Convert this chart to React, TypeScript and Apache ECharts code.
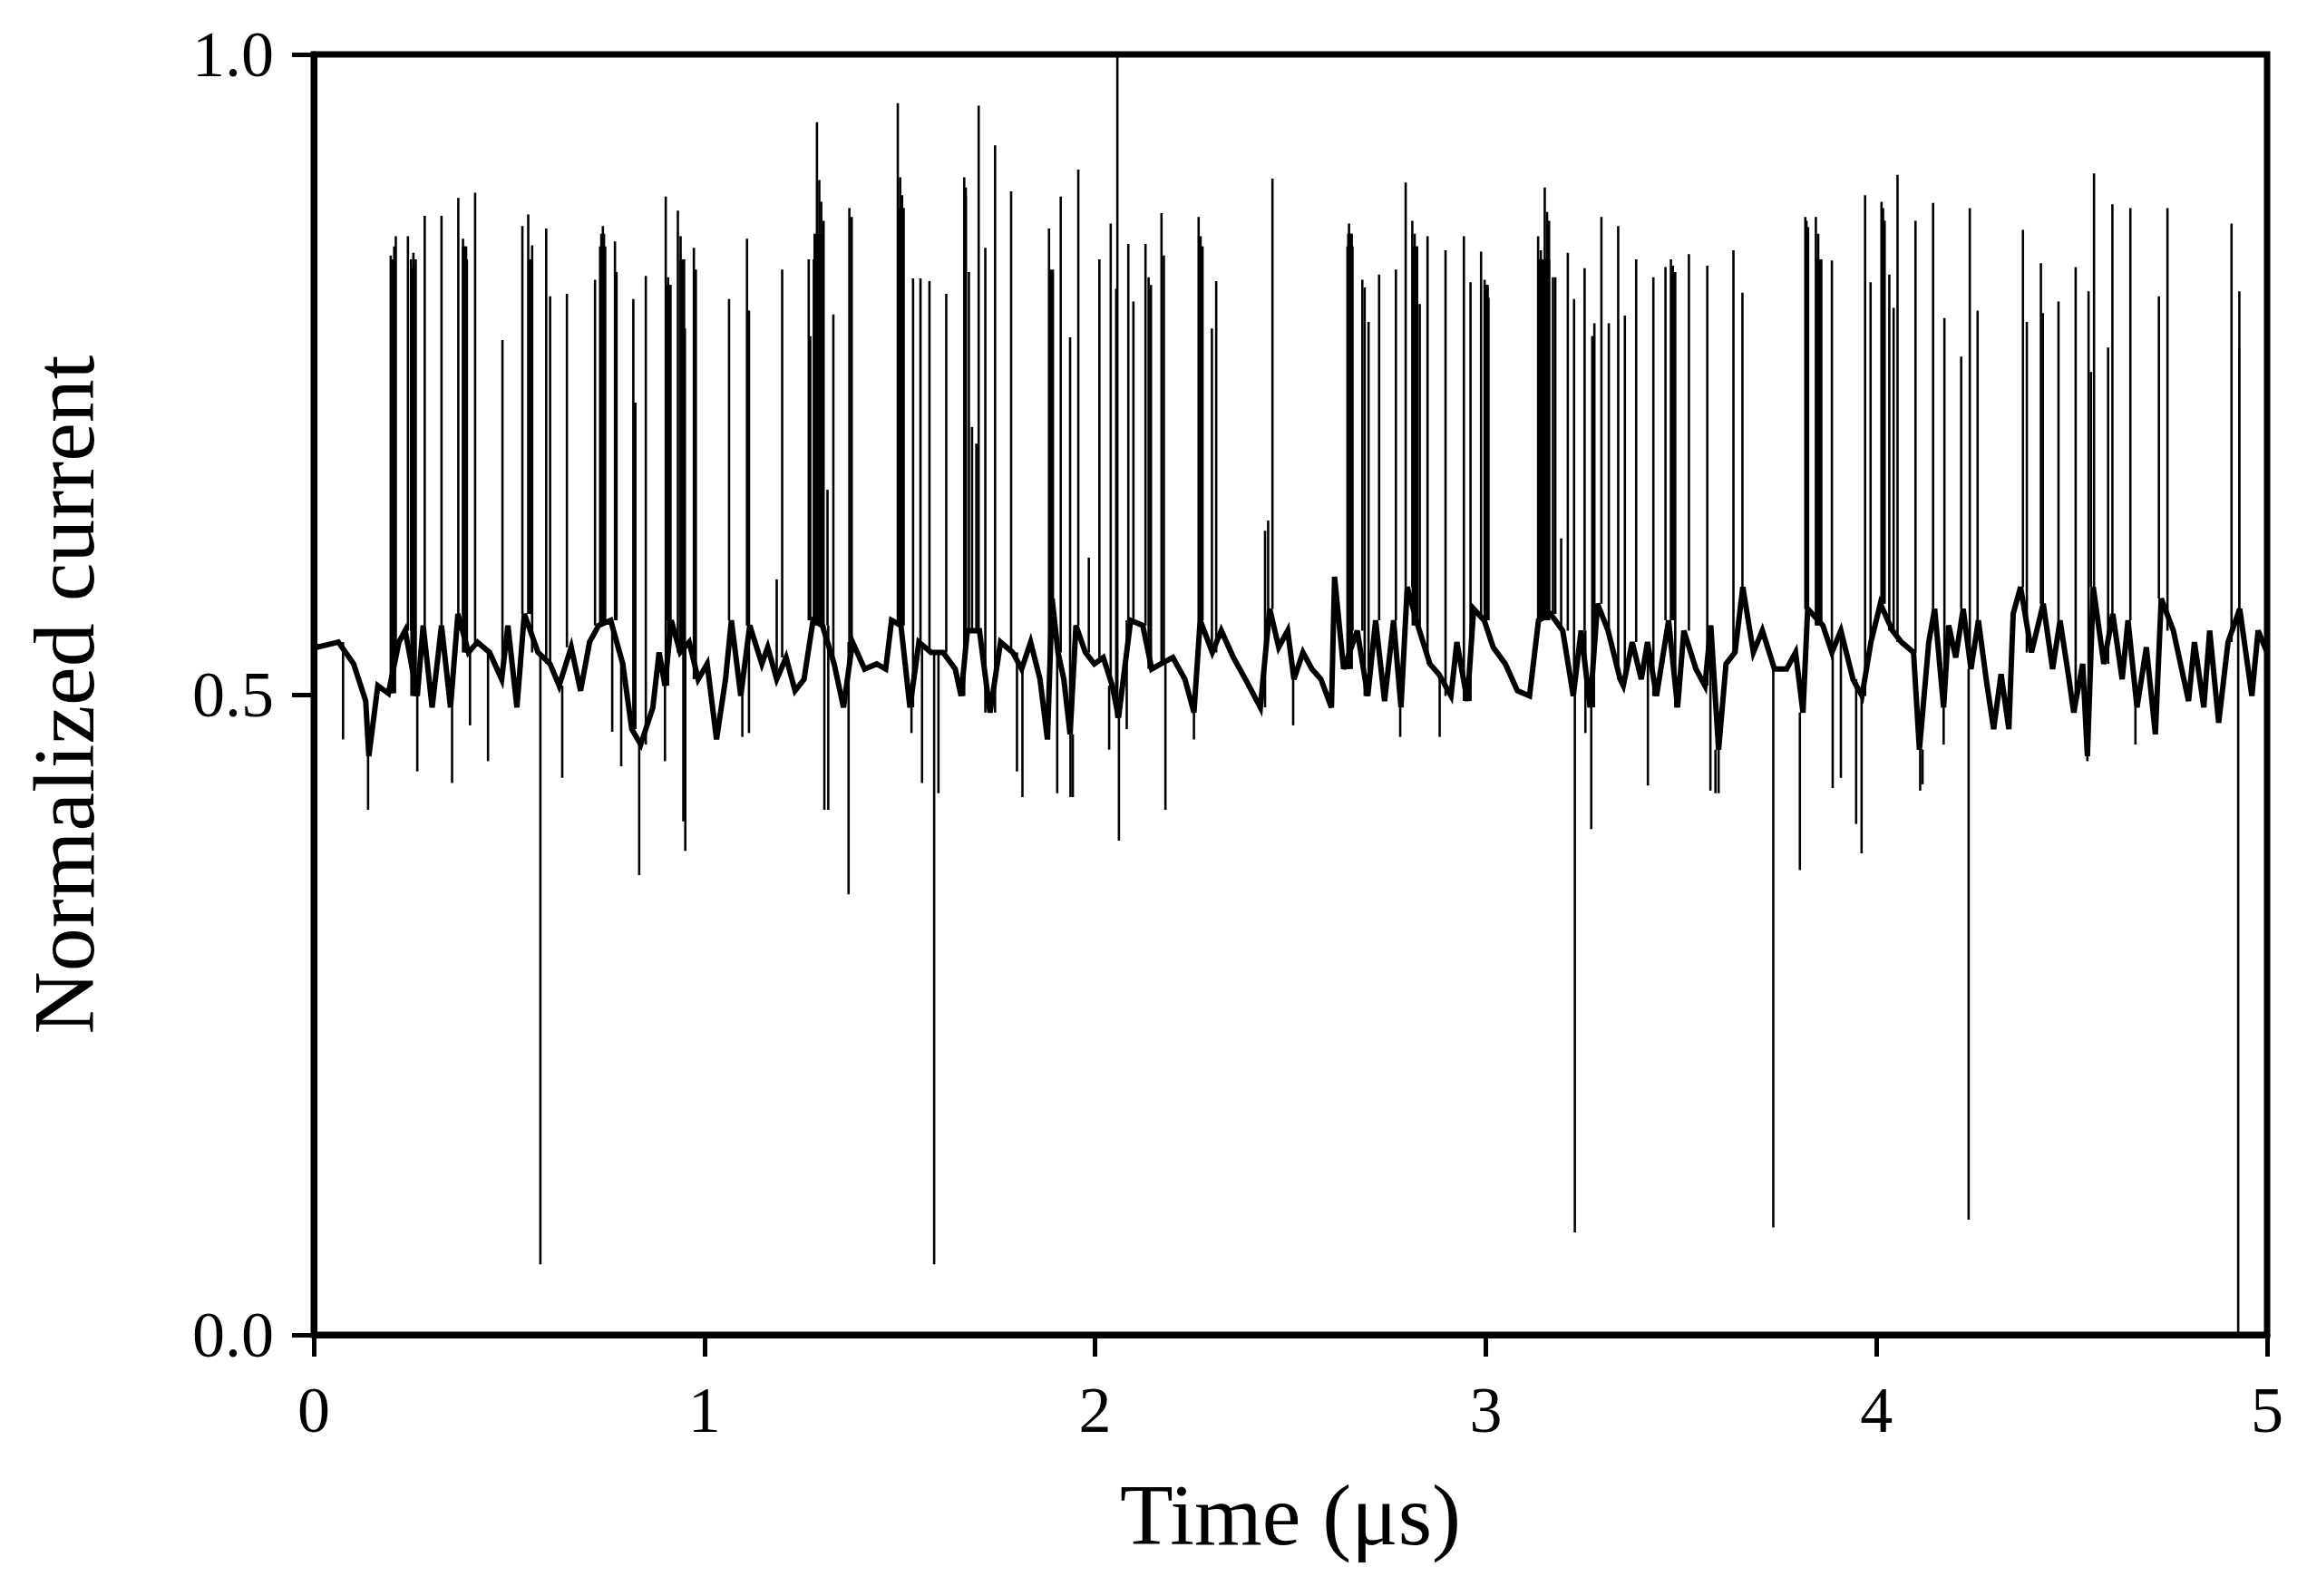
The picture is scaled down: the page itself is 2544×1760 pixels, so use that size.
import React, { useEffect, useRef } from "react";
import * as echarts from "echarts";

// Baseline trace readings [time (µs), normalized current]
const baseline: [number, number][] = [
  [0.0, 0.54], [0.009, 0.537], [0.063, 0.541], [0.102, 0.524], [0.133, 0.495], [0.141, 0.452],
  [0.164, 0.507], [0.191, 0.501], [0.218, 0.541], [0.234, 0.55], [0.265, 0.499], [0.28, 0.554],
  [0.303, 0.49], [0.327, 0.554], [0.35, 0.49], [0.369, 0.563], [0.396, 0.533], [0.419, 0.541],
  [0.45, 0.533], [0.481, 0.512], [0.497, 0.554], [0.52, 0.49], [0.539, 0.563], [0.574, 0.533],
  [0.605, 0.524], [0.628, 0.507], [0.659, 0.537], [0.683, 0.503], [0.706, 0.541], [0.729, 0.554],
  [0.76, 0.558], [0.791, 0.524], [0.814, 0.473], [0.837, 0.461], [0.868, 0.49], [0.884, 0.533],
  [0.899, 0.507], [0.915, 0.558], [0.938, 0.533], [0.961, 0.541], [0.984, 0.512], [1.007, 0.524],
  [1.031, 0.465], [1.054, 0.512], [1.069, 0.558], [1.093, 0.499], [1.116, 0.554], [1.147, 0.524],
  [1.162, 0.537], [1.185, 0.512], [1.209, 0.529], [1.232, 0.503], [1.255, 0.512], [1.278, 0.558],
  [1.302, 0.554], [1.332, 0.524], [1.356, 0.49], [1.379, 0.541], [1.41, 0.52], [1.441, 0.524],
  [1.464, 0.52], [1.479, 0.558], [1.503, 0.554], [1.526, 0.49], [1.549, 0.541], [1.58, 0.533],
  [1.611, 0.533], [1.642, 0.52], [1.657, 0.499], [1.673, 0.55], [1.704, 0.55], [1.731, 0.486],
  [1.758, 0.541], [1.789, 0.533], [1.812, 0.52], [1.835, 0.541], [1.859, 0.512], [1.878, 0.465],
  [1.89, 0.575], [1.905, 0.533], [1.92, 0.512], [1.936, 0.469], [1.951, 0.554], [1.975, 0.533],
  [1.998, 0.524], [2.021, 0.529], [2.044, 0.507], [2.06, 0.482], [2.091, 0.558], [2.122, 0.554],
  [2.145, 0.52], [2.168, 0.524], [2.199, 0.529], [2.23, 0.512], [2.253, 0.486], [2.269, 0.558],
  [2.3, 0.533], [2.323, 0.55], [2.354, 0.529], [2.385, 0.512], [2.423, 0.49], [2.447, 0.567],
  [2.47, 0.537], [2.493, 0.55], [2.509, 0.512], [2.532, 0.533], [2.555, 0.52], [2.578, 0.512],
  [2.605, 0.49], [2.613, 0.592], [2.636, 0.52], [2.671, 0.55], [2.698, 0.499], [2.718, 0.558],
  [2.741, 0.495], [2.764, 0.558], [2.783, 0.49], [2.799, 0.584], [2.826, 0.554], [2.857, 0.524],
  [2.88, 0.516], [2.911, 0.499], [2.926, 0.541], [2.953, 0.495], [2.969, 0.567], [2.996, 0.558],
  [3.019, 0.537], [3.05, 0.524], [3.081, 0.503], [3.112, 0.499], [3.135, 0.558], [3.166, 0.563],
  [3.197, 0.55], [3.224, 0.499], [3.244, 0.55], [3.267, 0.49], [3.286, 0.571], [3.313, 0.55],
  [3.344, 0.512], [3.352, 0.507], [3.375, 0.541], [3.398, 0.512], [3.414, 0.541], [3.437, 0.499],
  [3.468, 0.558], [3.491, 0.49], [3.507, 0.55], [3.538, 0.52], [3.561, 0.507], [3.576, 0.554],
  [3.596, 0.457], [3.615, 0.524], [3.638, 0.533], [3.658, 0.584], [3.685, 0.533], [3.708, 0.55],
  [3.739, 0.52], [3.77, 0.52], [3.793, 0.533], [3.812, 0.486], [3.824, 0.567], [3.863, 0.554],
  [3.886, 0.533], [3.909, 0.55], [3.94, 0.512], [3.963, 0.499], [3.986, 0.541], [4.01, 0.571],
  [4.041, 0.55], [4.064, 0.541], [4.095, 0.533], [4.11, 0.457], [4.134, 0.541], [4.149, 0.567],
  [4.172, 0.49], [4.185, 0.554], [4.203, 0.529], [4.222, 0.567], [4.242, 0.52], [4.261, 0.558],
  [4.281, 0.512], [4.3, 0.473], [4.319, 0.516], [4.339, 0.473], [4.35, 0.563], [4.369, 0.584],
  [4.397, 0.533], [4.427, 0.571], [4.451, 0.52], [4.47, 0.558], [4.493, 0.512], [4.505, 0.486],
  [4.528, 0.524], [4.54, 0.452], [4.555, 0.584], [4.582, 0.524], [4.605, 0.563], [4.629, 0.512],
  [4.644, 0.558], [4.667, 0.49], [4.691, 0.537], [4.714, 0.469], [4.729, 0.575], [4.76, 0.55],
  [4.799, 0.495], [4.814, 0.541], [4.838, 0.49], [4.853, 0.55], [4.876, 0.478], [4.9, 0.541],
  [4.93, 0.567], [4.961, 0.499], [4.977, 0.55], [5.0, 0.533],
];

// Upward spikes [time (µs), peak]
const upSpikes: [number, number][] = [
  [0.197, 0.843], [0.201, 0.84], [0.206, 0.85], [0.21, 0.858], [0.241, 0.858], [0.249, 0.84],
  [0.255, 0.845], [0.261, 0.84], [0.284, 0.874], [0.327, 0.874], [0.37, 0.888], [0.382, 0.856],
  [0.387, 0.85], [0.392, 0.84], [0.413, 0.892], [0.483, 0.777], [0.534, 0.866], [0.549, 0.875],
  [0.559, 0.851], [0.595, 0.864], [0.605, 0.811], [0.648, 0.813], [0.72, 0.824], [0.733, 0.85],
  [0.74, 0.866], [0.746, 0.85], [0.771, 0.854], [0.775, 0.83], [0.818, 0.809], [0.823, 0.728],
  [0.85, 0.827], [0.901, 0.889], [0.907, 0.826], [0.913, 0.82], [0.932, 0.878], [0.939, 0.858],
  [0.946, 0.84], [0.95, 0.786], [0.973, 0.849], [0.978, 0.832], [1.063, 0.809], [1.109, 0.856],
  [1.114, 0.8], [1.185, 0.59], [1.199, 0.832], [1.267, 0.84], [1.271, 0.78], [1.28, 0.84],
  [1.285, 0.85], [1.288, 0.947], [1.294, 0.902], [1.299, 0.885], [1.305, 0.87], [1.315, 0.66],
  [1.33, 0.797], [1.371, 0.88], [1.377, 0.873], [1.495, 0.962], [1.501, 0.904], [1.506, 0.89],
  [1.51, 0.88], [1.534, 0.825], [1.553, 0.825], [1.576, 0.823], [1.619, 0.813], [1.665, 0.904],
  [1.669, 0.896], [1.677, 0.83], [1.685, 0.709], [1.696, 0.696], [1.702, 0.96], [1.719, 0.849],
  [1.744, 0.929], [1.785, 0.893], [1.882, 0.864], [1.887, 0.832], [1.892, 0.832], [1.912, 0.889],
  [1.936, 0.779], [1.957, 0.91], [1.984, 0.607], [2.011, 0.84], [2.04, 0.868], [2.054, 0.817],
  [2.057, 1.0], [2.085, 0.852], [2.098, 0.807], [2.129, 0.852], [2.137, 0.826], [2.143, 0.82],
  [2.17, 0.876], [2.176, 0.843], [2.265, 0.873], [2.27, 0.858], [2.275, 0.85], [2.299, 0.786],
  [2.31, 0.823], [2.435, 0.628], [2.443, 0.636], [2.454, 0.903], [2.646, 0.85], [2.65, 0.868],
  [2.655, 0.86], [2.659, 0.85], [2.684, 0.824], [2.69, 0.818], [2.7, 0.791], [2.727, 0.828],
  [2.77, 0.832], [2.795, 0.9], [2.812, 0.87], [2.818, 0.86], [2.824, 0.85], [2.831, 0.805],
  [2.851, 0.858], [2.897, 0.847], [2.944, 0.858], [2.961, 0.822], [2.988, 0.846], [2.997, 0.824],
  [3.003, 0.82], [3.007, 0.81], [3.134, 0.858], [3.141, 0.847], [3.151, 0.896], [3.157, 0.877],
  [3.162, 0.87], [3.172, 0.826], [3.178, 0.826], [3.193, 0.622], [3.21, 0.845], [3.226, 0.809],
  [3.253, 0.833], [3.273, 0.78], [3.278, 0.79], [3.296, 0.873], [3.315, 0.79], [3.339, 0.866],
  [3.356, 0.796], [3.385, 0.84], [3.429, 0.826], [3.46, 0.834], [3.474, 0.84], [3.479, 0.835],
  [3.485, 0.83], [3.52, 0.844], [3.567, 0.835], [3.634, 0.847], [3.657, 0.814], [3.818, 0.873],
  [3.821, 0.87], [3.825, 0.865], [3.845, 0.873], [3.851, 0.86], [3.859, 0.84], [3.886, 0.839],
  [3.971, 0.89], [3.985, 0.822], [4.013, 0.885], [4.017, 0.88], [4.021, 0.87], [4.033, 0.828],
  [4.044, 0.802], [4.054, 0.906], [4.1, 0.87], [4.145, 0.884], [4.174, 0.794], [4.217, 0.764],
  [4.239, 0.88], [4.259, 0.8], [4.375, 0.863], [4.385, 0.791], [4.421, 0.837], [4.426, 0.798],
  [4.466, 0.807], [4.51, 0.834], [4.543, 0.815], [4.549, 0.752], [4.557, 0.907], [4.593, 0.771],
  [4.604, 0.883], [4.65, 0.88], [4.723, 0.811], [4.745, 0.88], [4.909, 0.868], [4.929, 0.815],
];

// Downward spikes [time (µs), trough]
const downSpikes: [number, number][] = [
  [0.075, 0.465], [0.139, 0.41], [0.265, 0.44], [0.354, 0.431], [0.4, 0.476], [0.446, 0.448],
  [0.58, 0.055], [0.636, 0.435], [0.764, 0.471], [0.787, 0.444], [0.833, 0.359], [0.899, 0.448],
  [0.946, 0.401], [0.951, 0.378], [1.097, 0.467], [1.114, 0.47], [1.307, 0.41], [1.317, 0.41],
  [1.369, 0.344], [1.53, 0.47], [1.557, 0.431], [1.588, 0.055], [1.599, 0.423], [1.8, 0.44],
  [1.814, 0.42], [1.903, 0.423], [1.937, 0.42], [1.943, 0.42], [2.036, 0.457], [2.061, 0.386],
  [2.081, 0.473], [2.18, 0.41], [2.253, 0.465], [2.507, 0.476], [2.781, 0.467], [2.882, 0.467],
  [3.228, 0.08], [3.255, 0.47], [3.27, 0.395], [3.415, 0.429], [3.575, 0.425], [3.588, 0.423],
  [3.596, 0.423], [3.736, 0.084], [3.804, 0.363], [3.888, 0.427], [3.909, 0.435], [3.948, 0.399],
  [3.962, 0.376], [4.112, 0.425], [4.118, 0.43], [4.172, 0.461], [4.236, 0.09], [4.54, 0.448],
  [4.663, 0.461], [4.926, 0.0],
];

// Dense spike bursts that print as solid bars [start (µs), end (µs), top]
const bursts: [number, number, number][] = [
  [0.196, 0.211, 0.84], [0.247, 0.262, 0.834], [0.379, 0.393, 0.85], [0.548, 0.56, 0.84],
  [0.733, 0.746, 0.86], [0.817, 0.826, 0.728], [0.903, 0.915, 0.82], [0.936, 0.951, 0.84],
  [1.107, 1.112, 0.8], [1.279, 1.306, 0.86], [1.497, 1.51, 0.88], [1.664, 1.672, 0.89],
  [1.885, 1.893, 0.71], [2.266, 2.276, 0.85], [2.645, 2.66, 0.86], [2.81, 2.827, 0.85],
  [2.996, 3.008, 0.82], [3.133, 3.165, 0.84], [3.27, 3.28, 0.78], [3.473, 3.486, 0.83],
  [3.817, 3.826, 0.865], [3.844, 3.86, 0.84], [4.011, 4.022, 0.87], [4.926, 4.931, 0.77],
];

const xTicks = [0, 1, 2, 3, 4, 5];
const yTicks = [0.0, 0.5, 1.0];

function nearestBase(t: number): number {
  let best = baseline[0];
  for (const p of baseline) {
    if (Math.abs(p[0] - t) < Math.abs(best[0] - t)) best = p;
  }
  return best[1];
}

// Each spike as [time, baseline level at nearest reading, extreme value]
const spikeSegments: [number, number, number][] = [...upSpikes, ...downSpikes].map(
  ([t, p]) => [t, nearestBase(t), p]
);
// Each burst as [start, end, base, top]
const burstRects: [number, number, number, number][] = bursts.map(([a, b, top]) => [
  a,
  b,
  nearestBase((a + b) / 2),
  top,
]);

const FONT = "Liberation Serif, Times New Roman, serif";

export default function App() {
  const ref = useRef<HTMLDivElement>(null);
  useEffect(() => {
    if (!ref.current) return;
    const chart = echarts.init(ref.current, null, { renderer: "svg" });
    chart.setOption({
      animation: false,
      backgroundColor: "#ffffff",
      grid: {
        left: 346,
        right: 44,
        top: 60,
        bottom: 288,
        show: true,
        borderColor: "#000",
        borderWidth: 7,
        containLabel: false,
      },
      xAxis: {
        type: "value",
        min: xTicks[0],
        max: xTicks[xTicks.length - 1],
        interval: 1,
        name: "Time (μs)",
        nameLocation: "middle",
        nameGap: 150,
        nameTextStyle: { fontFamily: FONT, fontSize: 96, color: "#000" },
        axisLine: { show: true, onZero: false, lineStyle: { color: "#000", width: 7 } },
        axisTick: { show: true, inside: false, length: 24, lineStyle: { color: "#000", width: 5 } },
        axisLabel: { fontFamily: FONT, fontSize: 72, color: "#000", margin: 47 },
        splitLine: { show: false },
      },
      yAxis: {
        type: "value",
        min: yTicks[0],
        max: yTicks[yTicks.length - 1],
        interval: 0.5,
        name: "Normalized current",
        nameLocation: "middle",
        nameRotate: 90,
        nameGap: 228,
        nameTextStyle: { fontFamily: FONT, fontSize: 96, color: "#000" },
        axisLine: { show: true, onZero: false, lineStyle: { color: "#000", width: 7 } },
        axisTick: { show: true, inside: false, length: 24, lineStyle: { color: "#000", width: 5 } },
        axisLabel: {
          fontFamily: FONT,
          fontSize: 72,
          color: "#000",
          margin: 44,
          formatter: (v: number) => v.toFixed(1),
        },
        splitLine: { show: false },
      },
      series: [
        {
          type: "line",
          data: baseline,
          showSymbol: false,
          symbol: "none",
          lineStyle: { color: "#000", width: 6, join: "miter" },
          clip: true,
          z: 2,
        },
        {
          type: "custom",
          data: spikeSegments,
          encode: { x: 0, y: [1, 2] },
          clip: true,
          z: 3,
          renderItem: (_params: any, api: any) => {
            const t = api.value(0);
            const p0 = api.coord([t, api.value(1)]);
            const p1 = api.coord([t, api.value(2)]);
            return {
              type: "line",
              shape: { x1: p0[0], y1: p0[1], x2: p1[0], y2: p1[1] },
              style: { stroke: "#000", lineWidth: 2.6 },
            };
          },
        },
        {
          type: "custom",
          data: burstRects,
          encode: { x: [0, 1], y: [2, 3] },
          clip: true,
          z: 3,
          renderItem: (_params: any, api: any) => {
            const p0 = api.coord([api.value(0), api.value(3)]);
            const p1 = api.coord([api.value(1), api.value(2)]);
            return {
              type: "rect",
              shape: { x: p0[0], y: p0[1], width: p1[0] - p0[0], height: p1[1] - p0[1] },
              style: { fill: "#000" },
            };
          },
        },
      ],
    });
    return () => chart.dispose();
  }, []);
  return (
    <div
      ref={ref}
      style={{ position: "fixed", left: 0, top: 0, width: 2544, height: 1760, background: "#fff" }}
    />
  );
}
